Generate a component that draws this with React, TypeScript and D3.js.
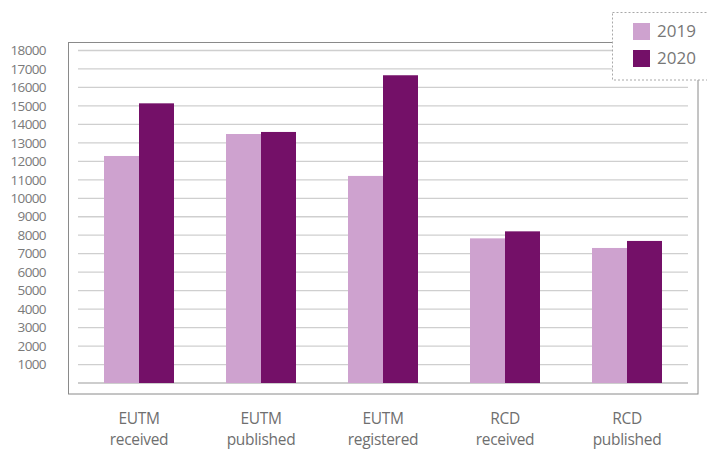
import React from "react";
import * as d3 from "d3";

const categories = ["EUTM received", "EUTM published", "EUTM registered", "RCD received", "RCD published"];
const series = ["2019", "2020"];
const values2019 = [12290, 13480, 11210, 7830, 7310];
const values2020 = [15140, 13590, 16660, 8210, 7690];
const yTicks = [1000, 2000, 3000, 4000, 5000, 6000, 7000, 8000, 9000, 10000, 11000, 12000, 13000, 14000, 15000, 16000, 17000, 18000];
const colors = ["#cea2cf", "#741068"];

export default function App() {
  const W = 707, H = 450;
  const x = d3.scaleBand<string>().domain(categories).range([78, 688]).padding(0);
  const y = d3.scaleLinear().domain([0, 18000]).range([383, 50.5]);
  const barW = 35;
  const font = "'Open Sans', sans-serif";
  const data = [values2019, values2020];

  return (
    <svg width={W} height={H} style={{ position: "absolute", left: 0, top: 0, background: "#fff" }}>
      <rect x={0} y={0} width={W} height={H} fill="#fff" />
      {/* frame */}
      <rect x={68.5} y={42.5} width={629.5} height={351.5} fill="none" stroke="#8a8a8a" strokeWidth={1} />
      {/* gridlines */}
      {yTicks.map((t) => (
        <line key={t} x1={78} x2={688} y1={y(t)} y2={y(t)} stroke="#cfcfcf" strokeWidth={1.3} />
      ))}
      <line x1={78} x2={688} y1={y(0)} y2={y(0)} stroke="#bdbdbd" strokeWidth={1.3} />
      {/* tick labels */}
      {yTicks.map((t) => (
        <text key={"l" + t} x={46} y={y(t)} dy="0.35em" textAnchor="end" fontFamily={font} fontSize={13.5} fill="#7a7a7a" letterSpacing={-0.6}>
          {t}
        </text>
      ))}
      {/* bars */}
      {categories.map((c, i) => {
        const cx = (x(c) as number) + x.bandwidth() / 2;
        return data.map((vals, s) => (
          <rect key={c + s} x={cx - barW + s * barW} y={y(vals[i])} width={barW} height={y(0) - y(vals[i])} fill={colors[s]} />
        ));
      })}
      {/* x labels */}
      {categories.map((c) => {
        const cx = (x(c) as number) + x.bandwidth() / 2;
        const parts = c.split(" ");
        return (
          <g key={"x" + c}>
            <text x={cx} y={424} textAnchor="middle" fontFamily={font} fontSize={15.5} fill="#6f6f6f" letterSpacing={-0.3}>
              {parts[0]}
            </text>
            <text x={cx} y={445} textAnchor="middle" fontFamily={font} fontSize={15.5} fill="#6f6f6f" letterSpacing={-0.3}>
              {parts[1]}
            </text>
          </g>
        );
      })}
      {/* legend */}
      <rect x={612.5} y={12.5} width={100} height={67.5} fill="#fff" stroke="#a8a8a8" strokeDasharray="2,2" strokeWidth={1} />
      {series.map((s, i) => (
        <g key={s}>
          <rect x={633} y={23 + i * 27} width={17} height={17} fill={colors[i]} />
          <text x={657} y={31.5 + i * 27} dy="0.35em" fontFamily={font} fontSize={17} fill="#777">
            {s}
          </text>
        </g>
      ))}
    </svg>
  );
}
